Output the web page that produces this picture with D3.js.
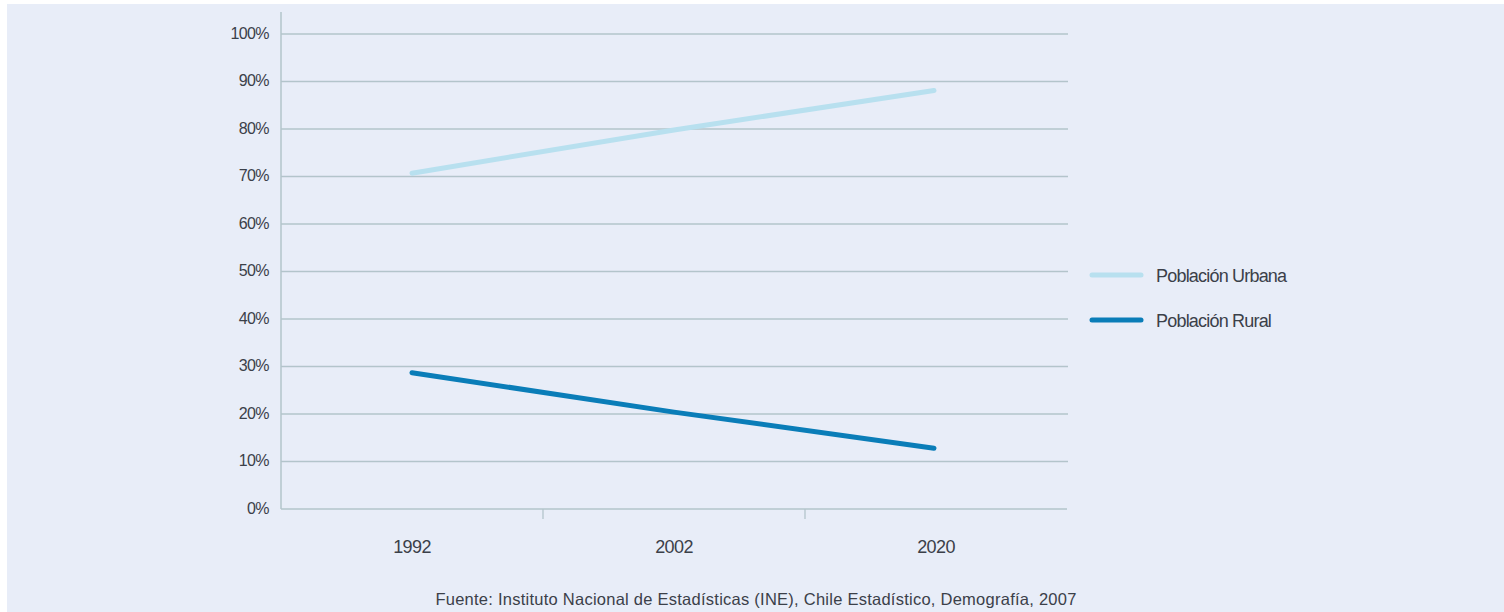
<!DOCTYPE html>
<html><head><meta charset="utf-8">
<script src="https://cdn.jsdelivr.net/npm/d3@7"></script>
<style>
html,body{margin:0;padding:0;background:#fff;}
text{font-family:"Liberation Sans",Arial,sans-serif;fill:#3b4049;}
</style></head>
<body>
<svg id="c" width="1504" height="612"></svg>
<script>
const years = ["1992", "2002", "2020"];
const urbana = [70.7, 79.8, 88.1];
const rural = [28.7, 20.4, 12.8];
const yTicks = [0,10,20,30,40,50,60,70,80,90,100];
const seriesNames = ["Población Urbana", "Población Rural"];
const seriesColors = ["#b8e0ef", "#0a7db8"];
const source = "Fuente: Instituto Nacional de Estadísticas (INE), Chile Estadístico, Demografía, 2007";

const svg = d3.select("#c");
svg.append("rect").attr("x",7).attr("y",4).attr("width",1497).attr("height",608).attr("fill","#e8edf8");

const L=281, R=1068, T=34, B=509;
const x = d3.scaleBand().domain(years).range([L, 1067]).padding(0);
const y = d3.scaleLinear().domain([0,100]).range([B, T]);
const grid = "#b3c4cb";

// gridlines
svg.append("g").selectAll("line").data(yTicks.filter(d=>d>0)).join("line")
  .attr("x1",L).attr("x2",R).attr("y1",d=>y(d)).attr("y2",d=>y(d))
  .attr("stroke",grid).attr("stroke-width",1.3);

// y axis
const ya = svg.append("g").attr("transform",`translate(${L},0)`)
  .call(d3.axisLeft(y).tickValues(yTicks).tickFormat(d=>d+"%").tickSize(0).tickPadding(12));
ya.select(".domain").remove();
ya.selectAll("text").attr("font-size",16).attr("font-family","Liberation Sans, Arial, sans-serif").attr("fill","#3b4049").attr("letter-spacing","-0.6").attr("dy","0.28em");
svg.append("line").attr("x1",L).attr("x2",L).attr("y1",12).attr("y2",B).attr("stroke",grid).attr("stroke-width",1.5);

// x axis
svg.append("line").attr("x1",L).attr("x2",1067).attr("y1",B).attr("y2",B).attr("stroke",grid).attr("stroke-width",1.5);
svg.append("g").selectAll("line").data(years.slice(1)).join("line")
  .attr("x1",d=>x(d)).attr("x2",d=>x(d)).attr("y1",B).attr("y2",B+10)
  .attr("stroke",grid).attr("stroke-width",1.3);
svg.append("g").selectAll("text").data(years).join("text")
  .attr("x",d=>x(d)+x.bandwidth()/2).attr("y",553).attr("text-anchor","middle")
  .attr("font-size",18).attr("letter-spacing","-0.6").text(d=>d);

// lines
const line = d3.line().x((d,i)=>x(years[i])+x.bandwidth()/2 - (i===2?2:0)).y(d=>y(d));
[urbana, rural].forEach((s,i)=>{
  svg.append("path").datum(s).attr("d",line).attr("fill","none")
    .attr("stroke",seriesColors[i]).attr("stroke-width",5).attr("stroke-linecap","round");
});

// legend
seriesNames.forEach((n,i)=>{
  const ly = 275 + i*45;
  svg.append("line").attr("x1",1092).attr("x2",1141).attr("y1",ly).attr("y2",ly)
    .attr("stroke",seriesColors[i]).attr("stroke-width",5).attr("stroke-linecap","round");
  svg.append("text").attr("x",1156).attr("y",ly+7).attr("font-size",18).attr("letter-spacing","-0.8").text(n);
});

// source
svg.append("text").attr("x",756).attr("y",605).attr("text-anchor","middle").attr("font-size",16.5).attr("letter-spacing","0.25").attr("fill","#2a2d33").text(source);
</script>
</body></html>
